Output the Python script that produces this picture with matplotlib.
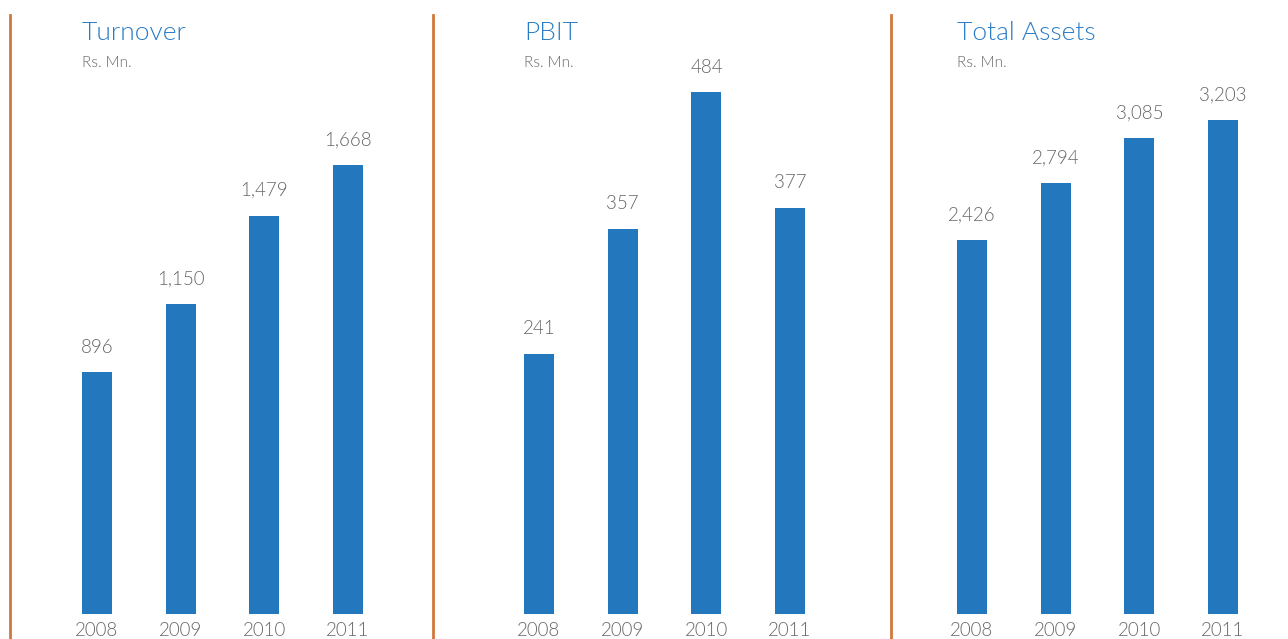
import matplotlib.pyplot as plt
from matplotlib.lines import Line2D

years = ["2008", "2009", "2010", "2011"]
turnover = [896, 1150, 1479, 1668]
pbit = [241, 357, 484, 377]
total_assets = [2426, 2794, 3085, 3203]

titles = ["Turnover", "PBIT", "Total Assets"]
series = [turnover, pbit, total_assets]
ytops = [1983, 495.4, 3464]

W, H = 1288, 639
bar_color = "#2277bd"
title_color = "#2a7cc6"
text_color = "#666666"
line_color = "#d0783c"

plt.rcParams["font.family"] = ["Lato", "DejaVu Sans"]
fig = plt.figure(figsize=(W / 100, H / 100), dpi=100)

# panel layout in pixels: axes left edge, divider line x
lefts = [55.15, 497.15, 930.15]
dividers = [10, 433, 891]
bottom_px = 613.5
top_px = 80
width_px = 334.8

for i in range(3):
    ax = fig.add_axes([lefts[i] / W, 1 - bottom_px / H, width_px / W, (bottom_px - top_px) / H])
    x = range(len(years))
    ax.bar(x, series[i], width=0.358, color=bar_color)
    ax.set_xlim(-0.5, 3.5)
    ax.set_ylim(0, ytops[i])
    for xi, v in zip(x, series[i]):
        ax.annotate(f"{v:,}", (xi, v), xytext=(0, 12), textcoords="offset points",
                    ha="center", va="bottom", fontsize=13.5, color=text_color, fontweight=300)
    ax.set_xticks(list(x))
    ax.set_xticklabels(years, fontsize=13.5, color=text_color, fontweight=300)
    ax.tick_params(axis="x", length=0, pad=6)
    ax.set_yticks([])
    for s in ax.spines.values():
        s.set_visible(False)

    tx = (lefts[i] + 41.85 - 15) / W
    fig.text(tx, 1 - 33 / H, titles[i], fontsize=19, color=title_color, va="center", ha="left",
             fontweight=300)
    fig.text(tx, 1 - 63 / H, "Rs. Mn.", fontsize=11, color=text_color, va="center", ha="left",
             fontweight=300)

    fig.add_artist(Line2D([dividers[i] / W, dividers[i] / W], [0, 1 - 15 / H],
                          color=line_color, linewidth=2, transform=fig.transFigure))

fig.savefig("out.png", dpi=100)
